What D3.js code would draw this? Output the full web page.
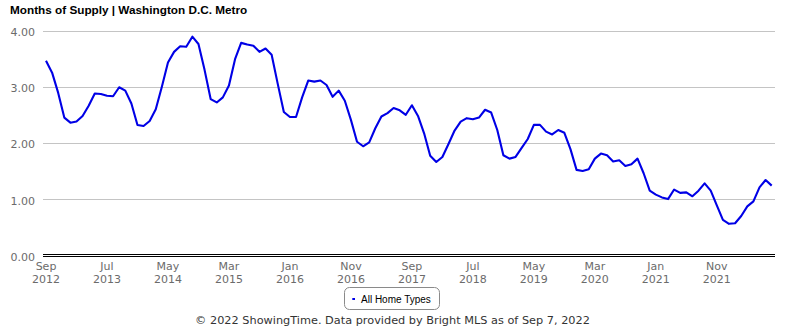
<!DOCTYPE html>
<html>
<head>
<meta charset="utf-8">
<script src="https://cdn.jsdelivr.net/npm/d3@7"></script>
<style>
  html, body { margin: 0; padding: 0; background: #fff; }
  svg { display: block; }
</style>
</head>
<body>
<svg id="chart" width="785" height="330"></svg>
<script>
// Months of supply, Washington D.C. Metro, all home types (Sep 2012 – Aug 2022)
const startMonth = new Date(2012, 8, 1);
const endMonth = new Date(2022, 7, 1);
const months = d3.timeMonth.range(startMonth, d3.timeMonth.offset(endMonth, 1));

const supply = [
  3.46, 3.25, 2.89, 2.45, 2.36, 2.38, 2.48, 2.66, 2.88, 2.87, 2.84, 2.83,
  2.99, 2.93, 2.70, 2.32, 2.30, 2.39, 2.60, 3.00, 3.43, 3.62, 3.72, 3.71,
  3.89, 3.76, 3.30, 2.78, 2.72, 2.81, 3.02, 3.49, 3.78, 3.75, 3.73, 3.62,
  3.68, 3.57, 3.05, 2.55, 2.46, 2.46, 2.81, 3.11, 3.09, 3.11, 3.03, 2.82,
  2.93, 2.75, 2.41, 2.02, 1.94, 2.01, 2.26, 2.47, 2.53, 2.62, 2.58, 2.50,
  2.67, 2.48, 2.17, 1.77, 1.66, 1.75, 1.98, 2.22, 2.38, 2.44, 2.42, 2.45,
  2.59, 2.54, 2.23, 1.78, 1.72, 1.75, 1.91, 2.07, 2.32, 2.32, 2.20, 2.15,
  2.23, 2.18, 1.89, 1.52, 1.50, 1.53, 1.72, 1.81, 1.78, 1.67, 1.69, 1.59,
  1.62, 1.72, 1.46, 1.15, 1.08, 1.03, 1.00, 1.17, 1.11, 1.12, 1.05, 1.15,
  1.28, 1.15, 0.89, 0.63, 0.56, 0.57, 0.70, 0.87, 0.96, 1.21, 1.34, 1.24
];

const yTicks = [0, 1, 2, 3, 4];
const xTickEvery = 10; // a label every ten months
const titleText = "Months of Supply | Washington D.C. Metro";
const seriesName = "All Home Types";
const footerText = "\u00A9 2022 ShowingTime. Data provided by Bright MLS as of Sep 7, 2022";

const svg = d3.select("#chart");
const plot = { left: 43, right: 775, top: 30.5, bottom: 255.3 };

const x = d3.scalePoint()
  .domain(months.map(d => +d))
  .range([46, 771.7]);

const y = d3.scaleLinear()
  .domain([0, 4])
  .range([plot.bottom, plot.top]);

const axisFont = "'DejaVu Sans', sans-serif";
const axisColor = "#6b6b6b";

// Title
svg.append("text")
  .attr("x", 10).attr("y", 14)
  .attr("font-family", "'Liberation Sans', Arial, sans-serif")
  .attr("font-weight", "bold")
  .attr("font-size", 11.75)
  .attr("fill", "#000")
  .text(titleText);

// Horizontal gridlines
svg.append("g")
  .selectAll("line")
  .data(yTicks.filter(v => v > 0))
  .join("line")
  .attr("x1", plot.left).attr("x2", plot.right)
  .attr("y1", d => Math.round(y(d)) + 0.5)
  .attr("y2", d => Math.round(y(d)) + 0.5)
  .attr("stroke", "#c4c4c4")
  .attr("stroke-width", 1);

// Y axis labels
const yAxis = d3.axisLeft(y)
  .tickValues(yTicks)
  .tickFormat(d3.format(".2f"))
  .tickSize(0)
  .tickPadding(0);

const yg = svg.append("g")
  .attr("transform", "translate(35,0)")
  .call(yAxis);
yg.select(".domain").remove();
yg.selectAll("text")
  .attr("font-family", axisFont)
  .attr("font-size", 11)
  .attr("fill", axisColor)
  .attr("dy", "0.45em");

// Double baseline at zero
const base = Math.round(y(0));
[base - 0.5, base + 1.5].forEach(yy => {
  svg.append("line")
    .attr("x1", plot.left).attr("x2", plot.right)
    .attr("y1", yy).attr("y2", yy)
    .attr("stroke", "#000")
    .attr("stroke-width", 1);
});

// X axis labels (month / year on two lines)
const monthFmt = d3.timeFormat("%b");
const yearFmt = d3.timeFormat("%Y");
const xTicks = months.filter((d, i) => i % xTickEvery === 0);

const xg = svg.append("g")
  .selectAll("text")
  .data(xTicks)
  .join("text")
  .attr("x", d => x(+d))
  .attr("text-anchor", "middle")
  .attr("font-family", axisFont)
  .attr("font-size", 11)
  .attr("fill", axisColor);
xg.append("tspan").attr("x", d => x(+d)).attr("y", 269.5).text(d => monthFmt(d));
xg.append("tspan").attr("x", d => x(+d)).attr("y", 283.3).text(d => yearFmt(d));

// Series line
const line = d3.line()
  .x((d, i) => x(+months[i]))
  .y(d => y(d));

svg.append("path")
  .datum(supply)
  .attr("d", line)
  .attr("fill", "none")
  .attr("stroke", "#0000e6")
  .attr("stroke-width", 2.1)
  .attr("stroke-linejoin", "round");

// Legend
const lg = svg.append("g");
lg.append("rect")
  .attr("x", 344.5).attr("y", 287.5)
  .attr("width", 95).attr("height", 22)
  .attr("rx", 5)
  .attr("fill", "#fff")
  .attr("stroke", "#8a8a8a")
  .attr("stroke-width", 1);
lg.append("line")
  .attr("x1", 352.3).attr("x2", 355)
  .attr("y1", 299).attr("y2", 299)
  .attr("stroke", "#0000e6")
  .attr("stroke-width", 2);
lg.append("text")
  .attr("x", 361).attr("y", 302.5)
  .attr("font-family", "'Liberation Sans', Arial, sans-serif")
  .attr("font-size", 10)
  .attr("fill", "#000")
  .text(seriesName);

// Footer
svg.append("text")
  .attr("x", 392.5).attr("y", 324)
  .attr("text-anchor", "middle")
  .attr("font-family", axisFont)
  .attr("font-size", 11.3)
  .attr("fill", "#333")
  .text(footerText);
</script>
</body>
</html>
